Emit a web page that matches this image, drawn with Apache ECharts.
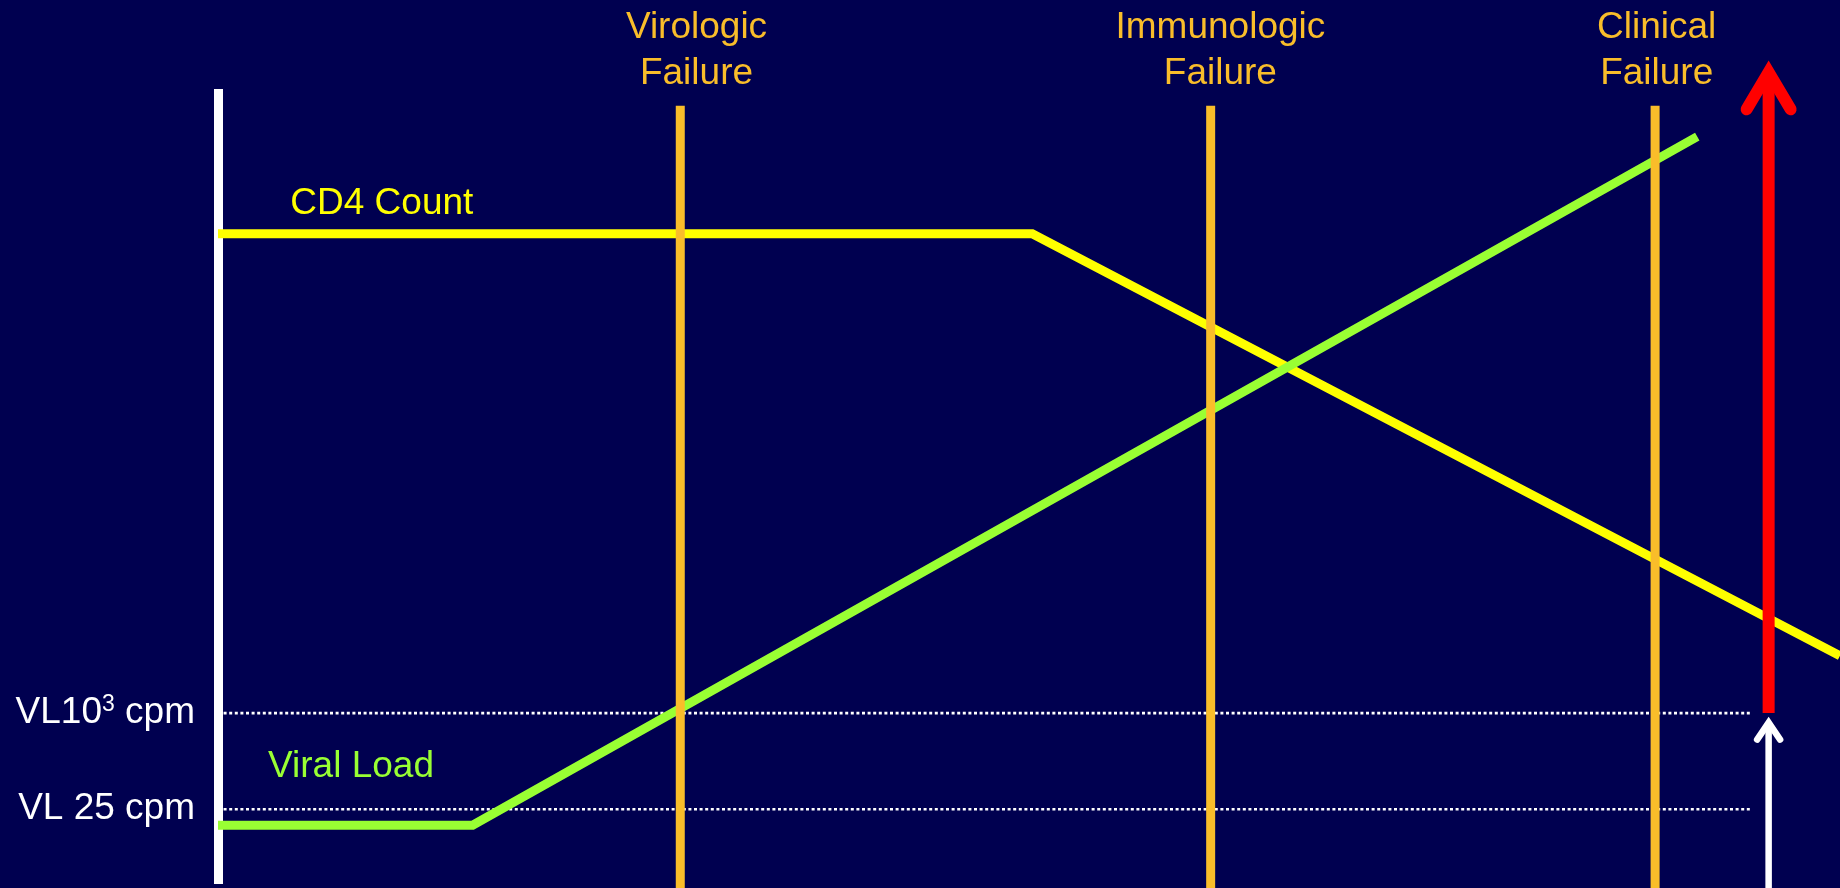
<!DOCTYPE html>
<html>
<head>
<meta charset="utf-8">
<title>CD4 Count and Viral Load – Treatment Failure</title>
<style>
  html, body { margin: 0; padding: 0; background: #000050; }
  #chart { width: 1840px; height: 888px; }
</style>
<script src="https://cdn.jsdelivr.net/npm/echarts@6/dist/echarts.min.js"></script>
</head>
<body>
<div id="chart"></div>
<script>
// Time runs along x (0–100), relative level along y (0–100)
const cd4Count = [[0, 81.8], [50.2, 81.8], [100, 28.7]];
const viralLoad = [[0, 7.4], [15.7, 7.4], [91.2, 94.0]];

// Viral load thresholds (dotted reference lines) and their axis labels
const thresholdLevels = [21.5, 9.4];
const thresholdLabels = [['VL10', '3', ' cpm'], ['VL 25 cpm']];
const thresholdEnd = 94.5;

// Failure events
const failureNames = ['Virologic\nFailure', 'Immunologic\nFailure', 'Clinical\nFailure'];
const failureTimes = [28.5, 61.2, 88.6];
const failureTop = 97.9;
const failureLabelTimes = [29.5, 61.8, 88.7];
const failureLabelLevel = 104.8;

// Series captions
const seriesLabels = ['CD4 Count', 'Viral Load'];
const seriesLabelPos = [[10.1, 85.5], [8.2, 14.7]];

// Arrows: [time, from level, to level]
const riskArrow = [[95.6, 21.5, 102.1]];
const loadArrow = [[95.6, -0.5, 20.3]];

const FONT = '"Liberation Sans", Arial, Helvetica, sans-serif';
const BG = '#000050';
const YELLOW = '#ffff00';
const GREEN = '#99ff33';
const ORANGE = '#f9bd2a';
const RED = '#ff0000';
const WHITE = '#ffffff';

const chart = echarts.init(document.getElementById('chart'), null, { renderer: 'canvas' });

function arrowRenderer(color, width, wingDx, wingDy) {
  return function (params, api) {
    const x = api.value(0);
    const base = api.coord([x, api.value(1)]);
    const tip = api.coord([x, api.value(2)]);
    return {
      type: 'group',
      children: [
        {
          type: 'line',
          shape: { x1: base[0], y1: base[1], x2: tip[0], y2: tip[1] + 2 },
          style: { stroke: color, lineWidth: width, lineCap: 'butt' }
        },
        {
          type: 'polyline',
          shape: {
            points: [
              [tip[0] - wingDx, tip[1] + wingDy],
              [tip[0], tip[1]],
              [tip[0] + wingDx, tip[1] + wingDy]
            ]
          },
          style: { stroke: color, lineWidth: width, lineCap: 'round', lineJoin: 'miter', fill: null }
        }
      ]
    };
  };
}

const option = {
  backgroundColor: BG,
  animation: false,
  grid: { left: 218, right: 0, top: 89, bottom: 4, containLabel: false, outerBoundsMode: 'none' },
  xAxis: {
    type: 'value', min: 0, max: 100, show: false
  },
  yAxis: {
    type: 'value', min: 0, max: 100,
    axisLine: { show: true, lineStyle: { color: WHITE, width: 9, cap: 'butt' } },
    axisTick: { show: false },
    splitLine: { show: false },
    axisLabel: {
      show: true,
      customValues: thresholdLevels,
      margin: 23,
      formatter: function (v) {
        const i = thresholdLevels.findIndex(t => Math.abs(t - v) < 1e-6);
        if (i < 0) return '';
        const parts = thresholdLabels[i];
        if (parts.length === 3) {
          return '{m|' + parts[0] + '}{s|' + parts[1] + '}{m|' + parts[2] + '}';
        }
        return '{m|' + parts[0] + '}';
      },
      rich: {
        m: { fontSize: 37, fontFamily: FONT, color: WHITE, lineHeight: 40 },
        s: { fontSize: 23, fontFamily: FONT, color: WHITE, lineHeight: 33, verticalAlign: 'top' }
      }
    }
  },
  series: [
    // dotted viral load thresholds
    ...thresholdLevels.map(level => ({
      type: 'line',
      data: [[0, level], [thresholdEnd, level]],
      symbol: 'none',
      silent: true,
      z: 1,
      lineStyle: { color: WHITE, width: 2.6, type: [3, 2.6] }
    })),
    {
      name: 'CD4 Count',
      type: 'line',
      data: cd4Count,
      symbol: 'none',
      z: 2,
      lineStyle: { color: YELLOW, width: 9, cap: 'butt', join: 'miter' },
      markPoint: {
        symbol: 'circle', symbolSize: 0, silent: true,
        label: {
          show: true, position: 'inside', color: YELLOW, fontSize: 37, fontFamily: FONT,
          formatter: () => seriesLabels[0]
        },
        data: [{ coord: seriesLabelPos[0] }]
      }
    },
    {
      name: 'Viral Load',
      type: 'line',
      data: viralLoad,
      symbol: 'none',
      z: 2,
      lineStyle: { color: GREEN, width: 9, cap: 'butt', join: 'miter' },
      markPoint: {
        symbol: 'circle', symbolSize: 0, silent: true,
        label: {
          show: true, position: 'inside', color: GREEN, fontSize: 37, fontFamily: FONT,
          formatter: () => seriesLabels[1]
        },
        data: [{ coord: seriesLabelPos[1] }]
      }
    },
    // failure markers with their captions
    {
      type: 'custom',
      z: 5,
      clip: false,
      silent: true,
      data: failureTimes.map((t, i) => [t, failureTop, failureLabelTimes[i], failureLabelLevel, i]),
      renderItem: function (params, api) {
        const t = api.value(0);
        const bottom = api.coord([t, -0.5]);
        const top = api.coord([t, api.value(1)]);
        const lp = api.coord([api.value(2), api.value(3)]);
        return {
          type: 'group',
          children: [
            {
              type: 'line',
              shape: { x1: bottom[0], y1: bottom[1], x2: top[0], y2: top[1] },
              style: { stroke: ORANGE, lineWidth: 9, lineCap: 'butt' }
            },
            {
              type: 'text',
              x: lp[0], y: lp[1],
              style: {
                text: failureNames[api.value(4)],
                fill: ORANGE,
                fontSize: 37,
                fontFamily: FONT,
                lineHeight: 46,
                align: 'center',
                verticalAlign: 'middle'
              }
            }
          ]
        };
      }
    },
    {
      type: 'custom',
      z: 6,
      clip: false,
      silent: true,
      data: riskArrow,
      renderItem: arrowRenderer(RED, 12, 22, 37)
    },
    {
      type: 'custom',
      z: 6,
      clip: false,
      silent: true,
      data: loadArrow,
      renderItem: arrowRenderer(WHITE, 6.5, 11.5, 17)
    }
  ]
};

chart.setOption(option);
</script>
</body>
</html>
